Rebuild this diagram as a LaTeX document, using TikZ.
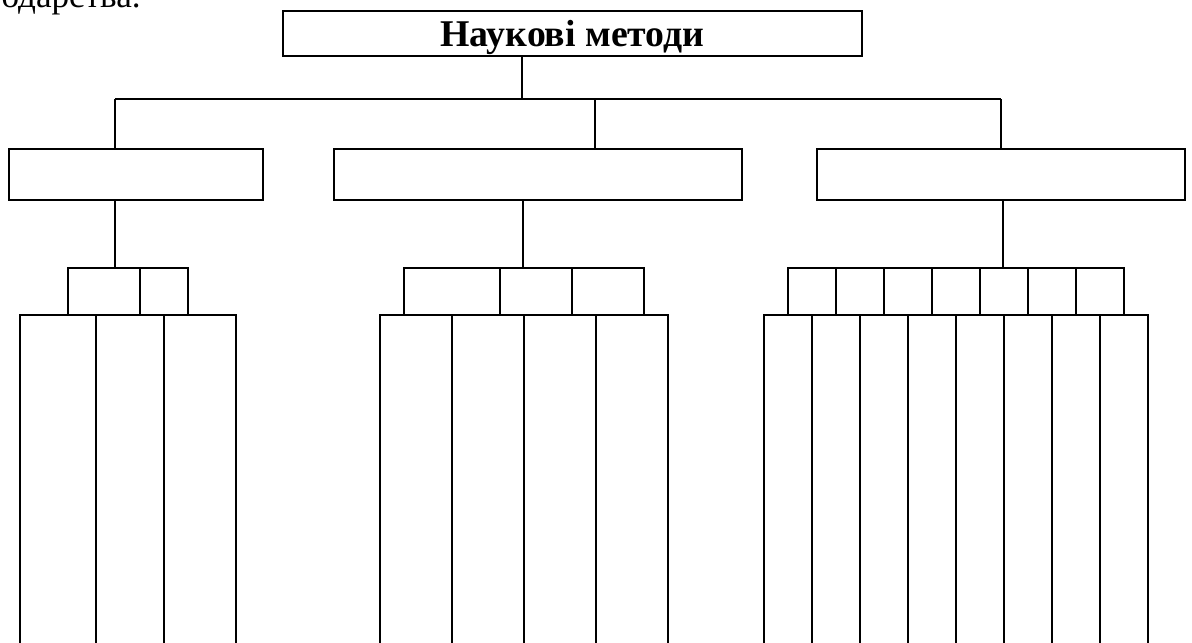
\documentclass[tikz,border=0pt]{standalone}
\usepackage{fontspec}
\setmainfont{Liberation Serif}
\usepackage{tikz}
\usetikzlibrary{shapes, arrows}
\tikzstyle{title} = [rectangle, draw=black, line width=1.1pt, inner sep=0pt, minimum width=11.58cm, minimum height=0.9cm, text height=0.54cm, text depth=0cm, text centered, font=\fontsize{21.5}{21.5}\selectfont\bfseries]
\tikzstyle{group} = [rectangle, draw=black, line width=1.1pt, inner sep=0pt, minimum height=1.02cm]
\tikzstyle{cell} = [rectangle, draw=black, line width=1.1pt, inner sep=0pt, minimum height=0.94cm, anchor=north west]
\tikzstyle{column} = [rectangle, draw=black, line width=1.1pt, inner sep=0pt, minimum height=7.2cm, anchor=north west]
\tikzstyle{line} = [line width=1.1pt]

\begin{document}
\begin{tikzpicture}[x=0.02cm, y=-0.02cm]
    \clip (0,0) rectangle (1192,642);
    \fill[white] (0,0) rectangle (1192,642);

    % cut-off line of the page above
    \node (pagetext) [anchor=base east, inner sep=0pt, font=\fontsize{20}{20}\selectfont] at (141,8) {одарства.};

    \node (methods) [title] at (572.5,33.5) {Наукові методи};

    \node (left) [group, minimum width=5.08cm] at (136,174.5) {};
    \node (middle) [group, minimum width=8.16cm] at (538,174.5) {};
    \node (right) [group, minimum width=7.36cm] at (1001,174.5) {};

    % left branch
    \node (ls1) [cell, minimum width=1.44cm] at (67,267) {};
    \node (ls2) [cell, minimum width=0.96cm] at (139,267) {};
    \node (lc1) [column, minimum width=1.52cm] at (19,314) {};
    \node (lc2) [column, minimum width=1.36cm] at (95,314) {};
    \node (lc3) [column, minimum width=1.44cm] at (163,314) {};

    % middle branch
    \node (ms1) [cell, minimum width=1.92cm] at (403,267) {};
    \node (ms2) [cell, minimum width=1.44cm] at (499,267) {};
    \node (ms3) [cell, minimum width=1.44cm] at (571,267) {};
    \node (mc1) [column, minimum width=1.44cm] at (379,314) {};
    \node (mc2) [column, minimum width=1.44cm] at (451,314) {};
    \node (mc3) [column, minimum width=1.44cm] at (523,314) {};
    \node (mc4) [column, minimum width=1.44cm] at (595,314) {};

    % right branch
    \node (rs1) [cell, minimum width=0.96cm] at (787,267) {};
    \node (rs2) [cell, minimum width=0.96cm] at (835,267) {};
    \node (rs3) [cell, minimum width=0.96cm] at (883,267) {};
    \node (rs4) [cell, minimum width=0.96cm] at (931,267) {};
    \node (rs5) [cell, minimum width=0.96cm] at (979,267) {};
    \node (rs6) [cell, minimum width=0.96cm] at (1027,267) {};
    \node (rs7) [cell, minimum width=0.96cm] at (1075,267) {};
    \node (rc1) [column, minimum width=0.96cm] at (763,314) {};
    \node (rc2) [column, minimum width=0.96cm] at (811,314) {};
    \node (rc3) [column, minimum width=0.96cm] at (859,314) {};
    \node (rc4) [column, minimum width=0.96cm] at (907,314) {};
    \node (rc5) [column, minimum width=0.96cm] at (955,314) {};
    \node (rc6) [column, minimum width=0.96cm] at (1003,314) {};
    \node (rc7) [column, minimum width=0.96cm] at (1051,314) {};
    \node (rc8) [column, minimum width=0.96cm] at (1099,314) {};

    \coordinate (busleft) at (115,99);
    \coordinate (bustop) at (522,99);
    \coordinate (busmid) at (595,99);
    \coordinate (busright) at (1001,99);
    \coordinate (ljoin) at (115,267);
    \coordinate (mjoin) at (523,267);
    \coordinate (rjoin) at (1003,267);

    \draw [line] (methods.south -| bustop) -- (bustop);
    \draw [line] (busleft) -- (busright);
    \draw [line] (busleft) -- (busleft |- left.north);
    \draw [line] (busmid) -- (busmid |- middle.north);
    \draw [line] (busright) -- (right.north);
    \draw [line] (ljoin |- left.south) -- (ljoin);
    \draw [line] (mjoin |- middle.south) -- (mjoin);
    \draw [line] (rjoin |- right.south) -- (rjoin);

    \end{tikzpicture}
\end{document}
